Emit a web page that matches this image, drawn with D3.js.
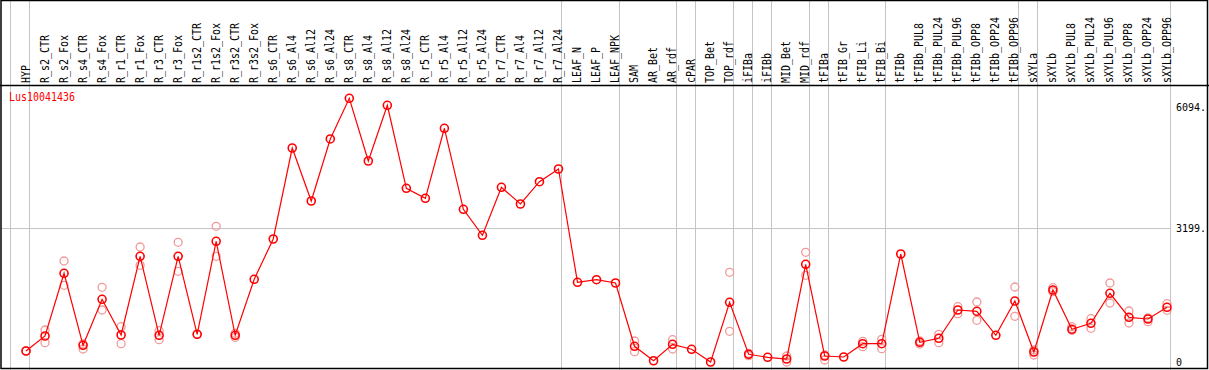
<!DOCTYPE html>
<html>
<head>
<meta charset="utf-8">
<script src="https://cdn.jsdelivr.net/npm/d3@7"></script>
<style>
body { margin: 0; background: #fff; }
svg text { font-family: "DejaVu Sans Mono", monospace; font-size: 12px; }
svg text.tick { font-size: 10px; }
</style>
</head>
<body>
<svg id="chart" width="1209" height="370"></svg>
<script>
var geneName = "Lus10041436";

var samples = ["HYP",
  "R_s2_CTR","R_s2_Fox","R_s4_CTR","R_s4_Fox","R_r1_CTR","R_r1_Fox","R_r3_CTR","R_r3_Fox",
  "R_r1s2_CTR","R_r1s2_Fox","R_r3s2_CTR","R_r3s2_Fox",
  "R_s6_CTR","R_s6_Al4","R_s6_Al12","R_s6_Al24","R_s8_CTR","R_s8_Al4","R_s8_Al12","R_s8_Al24",
  "R_r5_CTR","R_r5_Al4","R_r5_Al12","R_r5_Al24","R_r7_CTR","R_r7_Al4","R_r7_Al12","R_r7_Al24",
  "LEAF_N","LEAF_P","LEAF_NPK",
  "SAM","AR_Bet","AR_rdf",
  "cPAR",
  "TOP_Bet","TOP_rdf",
  "iFIBa",
  "iFIBb",
  "MID_Bet","MID_rdf",
  "tFIBa",
  "tFIB_Gr","tFIB_Li","tFIB_Bi",
  "tFIBb","tFIBb_PUL8","tFIBb_PUL24","tFIBb_PUL96","tFIBb_OPP8","tFIBb_OPP24","tFIBb_OPP96",
  "sXYLa",
  "sXYLb","sXYLb_PUL8","sXYLb_PUL24","sXYLb_PUL96","sXYLb_OPP8","sXYLb_OPP24","sXYLb_OPP96"];

// number of samples in each group (grey separators)
var groupSizes = [1, 28, 3, 3, 1, 2, 1, 1, 2, 1, 3, 7, 1, 7];

var means = [263,
  622, 2122, 400, 1500, 646, 2529, 639, 2529,
  663, 2888, 639, 1979,
  2943, 5120, 3852, 5336, 6309, 4809, 6142, 4156,
  3917, 5592, 3654, 3031, 4180, 3780, 4314, 4618,
  1907, 1969, 1890,
  376, 30, 423,
  304,
  0, 1428,
  184,
  112,
  72, 2337,
  144,
  120, 438, 438,
  2584, 471, 567, 1244, 1213, 639, 1459,
  239,
  1723, 782, 926, 1644, 1069, 1029, 1309];

var reps = [[263],
  [766, 462], [2417, 1835], [431, 311], [1787, 1244], [845, 438], [2751, 2314], [749, 534], [2864, 2170],
  [663], [3247, 2529], [687, 591], [],
  [], [], [], [], [], [], [], [],
  [], [], [], [], [], [], [], [],
  [], [], [],
  [502, 246], [], [534, 311],
  [],
  [], [2146, 735],
  [208, 151],
  [],
  [144, 0], [2625, 2074],
  [167, 48],
  [],
  [495, 366], [543, 318],
  [], [502, 431], [663, 462], [1323, 1156], [1436, 998], [], [1794, 1093],
  [287, 167],
  [1778, 1682], [845, 758], [1036, 806], [1890, 1412], [1220, 933], [1053, 964], [1395, 1237]];

var yTicks = [0, 3199, 6094];

var svg = d3.select("#chart");
var W = 1209, H = 370;
var headerY = 85;

var x = d3.scaleLinear().domain([0, samples.length]).range([10, 1170]);
var y = d3.scaleLinear().domain([0, 6094]).range([362, 107.3]);

function px(i) { return x(i + 1) - 3; }

// separators between sample groups
var bounds = [0];
groupSizes.forEach(function(s) { bounds.push(bounds[bounds.length - 1] + s); });

svg.selectAll("line.sep")
  .data(bounds)
  .enter().append("line")
  .attr("class", "sep")
  .attr("x1", function(d) { return Math.round(x(d)) + 0.5; })
  .attr("x2", function(d) { return Math.round(x(d)) + 0.5; })
  .attr("y1", 0).attr("y2", H)
  .attr("stroke", "#c4c4c4").attr("stroke-width", 1);

// horizontal grid line at the middle tick
svg.append("line")
  .attr("x1", 1).attr("x2", x(samples.length))
  .attr("y1", Math.round(y(3199)) + 0.5).attr("y2", Math.round(y(3199)) + 0.5)
  .attr("stroke", "#c4c4c4");

// frame + header line
svg.append("rect")
  .attr("x", 1).attr("y", 0.5).attr("width", W - 2.5).attr("height", H - 2)
  .attr("fill", "none").attr("stroke", "#000").attr("stroke-width", 1.5);
svg.append("line")
  .attr("x1", 0).attr("x2", W).attr("y1", headerY + 0.5).attr("y2", headerY + 0.5)
  .attr("stroke", "#000").attr("stroke-width", 1.5);

// column labels
svg.selectAll("text.lab")
  .data(samples)
  .enter().append("text")
  .attr("class", "lab")
  .attr("transform", function(d, i) { return "translate(" + (x(i + 1) + 0.5) + "," + (headerY - 2) + ") rotate(-90)"; })
  .attr("textLength", function(d) { return d.length * 6; })
  .attr("lengthAdjust", "spacingAndGlyphs")
  .text(function(d) { return d; });

// y tick labels
function tickText(d) { return d === 0 ? "0" : d + "."; }
svg.selectAll("text.tick")
  .data(yTicks)
  .enter().append("text")
  .attr("class", "tick")
  .attr("x", 1176)
  .attr("y", function(d) { return y(d) + 4; })
  .text(tickText);

// gene name
svg.append("text")
  .attr("x", 9).attr("y", 101)
  .attr("fill", "#ff0000")
  .attr("textLength", geneName.length * 6)
  .attr("lengthAdjust", "spacingAndGlyphs")
  .text(geneName);

// replicate points
var repPts = [];
reps.forEach(function(r, i) { r.forEach(function(v) { repPts.push({i: i, v: v}); }); });
svg.selectAll("circle.rep")
  .data(repPts)
  .enter().append("circle")
  .attr("class", "rep")
  .attr("cx", function(d) { return px(d.i); })
  .attr("cy", function(d) { return y(d.v); })
  .attr("r", 4)
  .attr("fill", "none")
  .attr("stroke", "#f09a9a")
  .attr("stroke-width", 1.3);

// mean line
var line = d3.line()
  .x(function(d, i) { return px(i); })
  .y(function(d) { return y(d); });
svg.append("path")
  .datum(means)
  .attr("d", line)
  .attr("fill", "none")
  .attr("stroke", "#ff0000")
  .attr("stroke-width", 1.2);

svg.selectAll("circle.mean")
  .data(means)
  .enter().append("circle")
  .attr("class", "mean")
  .attr("cx", function(d, i) { return px(i); })
  .attr("cy", function(d) { return y(d); })
  .attr("r", 4)
  .attr("fill", "none")
  .attr("stroke", "#ff0000")
  .attr("stroke-width", 1.6);
</script>
</body>
</html>
